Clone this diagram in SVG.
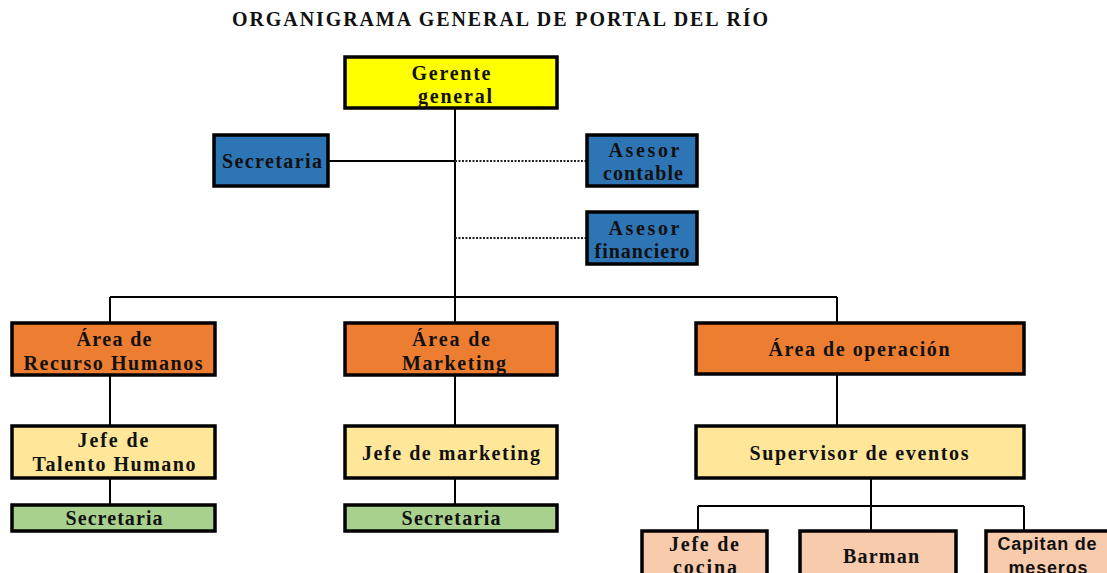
<svg xmlns="http://www.w3.org/2000/svg" width="1107" height="573" viewBox="0 0 1107 573">
<style>
.box{stroke:#000;stroke-width:3.5}
.t{font-family:"Liberation Serif","Times New Roman",serif;font-weight:bold;font-size:20px;fill:#111;text-anchor:middle}
.s{font-family:"Liberation Sans",Arial,sans-serif;font-weight:bold;font-size:18px;fill:#111;text-anchor:middle}
.ln{stroke:#000;stroke-width:2;fill:none}
.dot{stroke:#222;stroke-width:2;stroke-dasharray:2 1.5;fill:none}
.yl{fill:#FFFF00}.bl{fill:#2E75B6}.or{fill:#ED7D31}.ly{fill:#FFE699}.gr{fill:#A9D18E}.pk{fill:#F8CBAD}
</style>
<rect width="1107" height="573" fill="#fff"/>
<text x="500" y="26" class="t" style="font-size:20px" textLength="536" lengthAdjust="spacing">ORGANIGRAMA GENERAL DE PORTAL DEL RÍO</text>
<g id="connectors">
<path class="ln" d="M455 108V297M328 161H455M110 297H837M110 297V323M455 297V323M837 297V323M110 375V426M455 375V426M837 374V426M110 478V505M455 478V505M871 478V531M698 506H1024M698 506V531M1024 506V531"/>
<path class="dot" d="M455 161H587M455 238H587"/>
</g>
<g id="gerente"><rect class="box yl" x="345" y="57" width="212" height="51"/>
<text class="t" x="451" y="80" textLength="79" lengthAdjust="spacing">Gerente</text>
<text class="t" x="455" y="103" textLength="74" lengthAdjust="spacing">general</text></g>
<g id="secretaria-general"><rect class="box bl" x="214" y="135" width="114" height="51"/>
<text class="t" x="272" y="168" textLength="100" lengthAdjust="spacing">Secretaria</text></g>
<g id="asesor-contable"><rect class="box bl" x="587" y="135" width="110" height="51"/>
<text class="t" x="644" y="157" textLength="71" lengthAdjust="spacing">Asesor</text>
<text class="t" x="643" y="180" textLength="80" lengthAdjust="spacing">contable</text></g>
<g id="asesor-financiero"><rect class="box bl" x="587" y="212" width="110" height="52"/>
<text class="t" x="644" y="235" textLength="71" lengthAdjust="spacing">Asesor</text>
<text class="t" x="642" y="258" textLength="95" lengthAdjust="spacing">financiero</text></g>
<g id="area-rh"><rect class="box or" x="12" y="323" width="203" height="52"/>
<text class="t" x="114" y="346" textLength="75" lengthAdjust="spacing">Área de</text>
<text class="t" x="113" y="370" textLength="179" lengthAdjust="spacing">Recurso Humanos</text></g>
<g id="area-marketing"><rect class="box or" x="345" y="323" width="212" height="52"/>
<text class="t" x="451" y="346" textLength="78" lengthAdjust="spacing">Área de</text>
<text class="t" x="454" y="370" textLength="104" lengthAdjust="spacing">Marketing</text></g>
<g id="area-operacion"><rect class="box or" x="696" y="323" width="328" height="51"/>
<text class="t" x="859" y="356" textLength="181" lengthAdjust="spacing">Área de operación</text></g>
<g id="jefe-th"><rect class="box ly" x="12" y="426" width="203" height="52"/>
<text class="t" x="113" y="447" textLength="71" lengthAdjust="spacing">Jefe de</text>
<text class="t" x="114" y="471" textLength="163" lengthAdjust="spacing">Talento Humano</text></g>
<g id="jefe-marketing"><rect class="box ly" x="345" y="426" width="212" height="52"/>
<text class="t" x="451" y="460" textLength="178" lengthAdjust="spacing">Jefe de marketing</text></g>
<g id="supervisor"><rect class="box ly" x="696" y="426" width="328" height="52"/>
<text class="t" x="859" y="460" textLength="219" lengthAdjust="spacing">Supervisor de eventos</text></g>
<g id="secretaria-rh"><rect class="box gr" x="12" y="505" width="203" height="26"/>
<text class="t" x="114" y="525" textLength="97" lengthAdjust="spacing">Secretaria</text></g>
<g id="secretaria-mk"><rect class="box gr" x="345" y="505" width="212" height="26"/>
<text class="t" x="451" y="525" textLength="99" lengthAdjust="spacing">Secretaria</text></g>
<g id="jefe-cocina"><rect class="box pk" x="642" y="531" width="125" height="50"/>
<text class="t" x="704" y="551" textLength="70" lengthAdjust="spacing">Jefe de</text>
<text class="t" x="705" y="574" textLength="64" lengthAdjust="spacing">cocina</text></g>
<g id="barman"><rect class="box pk" x="800" y="531" width="156" height="50"/>
<text class="t" x="881" y="563" textLength="76" lengthAdjust="spacing">Barman</text></g>
<g id="capitan"><rect class="box pk" x="986" y="531" width="135" height="50"/>
<text class="s" x="1047" y="550" textLength="99" lengthAdjust="spacing">Capitan de</text>
<text class="s" x="1048" y="574" textLength="79" lengthAdjust="spacing">meseros</text></g>
</svg>
